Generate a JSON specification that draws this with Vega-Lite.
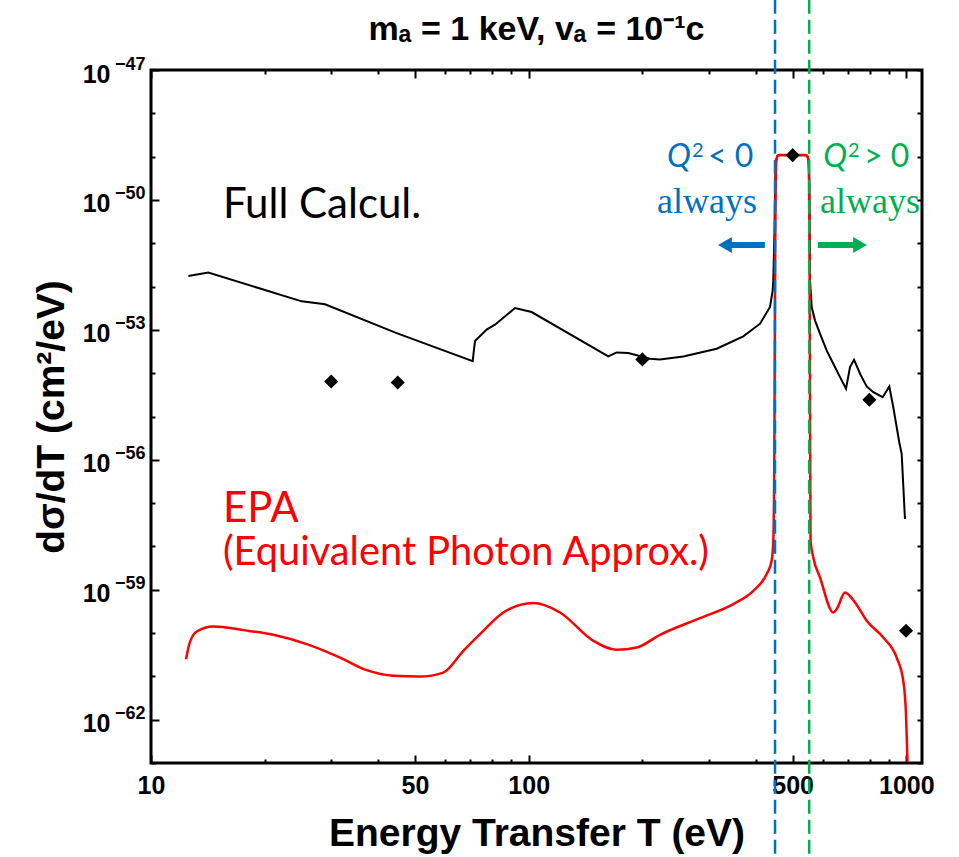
{
  "$schema": "https://vega.github.io/schema/vega-lite/v6.json",
  "width": 771,
  "height": 693,
  "autosize": "none",
  "padding": {"left": 151, "top": 70, "right": 37, "bottom": 94},
  "background": "white",
  "config": {
    "view": {"stroke": "black", "strokeWidth": 3},
    "axis": {"domain": false, "grid": false, "tickColor": "black", "tickWidth": 2, "labelColor": "black", "titleColor": "black"}
  },
  "title": {
    "text": "mₐ = 1 keV,  vₐ = 10⁻¹c",
    "frame": "group",
    "anchor": "middle",
    "offset": -75.5,
    "baseline": "alphabetic",
    "font": "Liberation Sans",
    "fontSize": 34,
    "fontWeight": "bold",
    "color": "black"
  },
  "datasets": {
    "black": [
      {"T": 12.56, "v": 1.754e-52}, {"T": 14.18, "v": 2.099e-52}, {"T": 25.06, "v": 4.56e-53}, {"T": 28.89, "v": 3.89e-53},
      {"T": 44.72, "v": 8.43e-54}, {"T": 71.07, "v": 1.897e-54}, {"T": 72.08, "v": 5.51e-54}, {"T": 77.4, "v": 1.012e-53},
      {"T": 81.4, "v": 1.318e-53}, {"T": 91.99, "v": 3.19e-53}, {"T": 101.8, "v": 2.58e-53}, {"T": 162.5, "v": 2.44e-54},
      {"T": 171.0, "v": 3.02e-54}, {"T": 183.5, "v": 2.91e-54}, {"T": 209.5, "v": 2.16e-54}, {"T": 222.7, "v": 2.08e-54},
      {"T": 256.7, "v": 2.44e-54}, {"T": 314.6, "v": 3.67e-54}, {"T": 370.0, "v": 7.08e-54}, {"T": 409.8, "v": 1.39e-53},
      {"T": 435.5, "v": 3.37e-53}, {"T": 442.6, "v": 8.18e-53}, {"T": 444.3, "v": 1.40e-52}, {"T": 447.5, "v": 2e-51},
      {"T": 449.5, "v": 3e-50}, {"T": 452, "v": 8.3e-50}, {"T": 456, "v": 1.05e-49}, {"T": 460, "v": 1.08e-49},
      {"T": 540, "v": 1.08e-49}, {"T": 546, "v": 1.05e-49}, {"T": 551, "v": 8.3e-50}, {"T": 553.5, "v": 3e-50},
      {"T": 555, "v": 1e-51}, {"T": 555.7, "v": 1.40e-52}, {"T": 561.5, "v": 3.37e-53}, {"T": 572.8, "v": 1.66e-53},
      {"T": 590.6, "v": 8.17e-54}, {"T": 615, "v": 3.36e-54}, {"T": 640.6, "v": 1.65e-54}, {"T": 667.4, "v": 8.11e-55},
      {"T": 692.1, "v": 4.37e-55}, {"T": 709.3, "v": 1.38e-54}, {"T": 726.8, "v": 2.05e-54}, {"T": 754.0, "v": 9.70e-55},
      {"T": 785, "v": 4.94e-55}, {"T": 817.6, "v": 3.65e-55}, {"T": 865.7, "v": 2.79e-55}, {"T": 901.2, "v": 4.94e-55},
      {"T": 923.4, "v": 1.64e-55}, {"T": 957.6, "v": 2.55e-56}, {"T": 971.8, "v": 1.37e-56}, {"T": 991.5, "v": 4.31e-58}
    ],
    "red": [
      {"T": 12.38, "v": 2.50e-61}, {"T": 12.63, "v": 5.55e-61}, {"T": 13.21, "v": 1.086e-60}, {"T": 14.62, "v": 1.416e-60},
      {"T": 17.55, "v": 1.169e-60}, {"T": 21.08, "v": 9.12e-61}, {"T": 25.84, "v": 5.55e-61}, {"T": 31.65, "v": 2.72e-61},
      {"T": 37.25, "v": 1.39e-61}, {"T": 43.81, "v": 1.03e-61}, {"T": 51.55, "v": 9.89e-62}, {"T": 59.42, "v": 1.22e-61},
      {"T": 67.13, "v": 3.89e-61}, {"T": 75.85, "v": 1.127e-60}, {"T": 85.67, "v": 2.99e-60}, {"T": 102.8, "v": 4.92e-60},
      {"T": 121.0, "v": 2.99e-60}, {"T": 148.3, "v": 6.62e-61}, {"T": 171.0, "v": 4.10e-61}, {"T": 193.2, "v": 4.63e-61},
      {"T": 222.7, "v": 9.12e-61}, {"T": 284.2, "v": 2.22e-60}, {"T": 348.1, "v": 4.67e-60}, {"T": 393.3, "v": 9.48e-60},
      {"T": 426.7, "v": 2.31e-59}, {"T": 439.9, "v": 4.69e-59}, {"T": 444.3, "v": 1.36e-58}, {"T": 447, "v": 1e-56},
      {"T": 448.5, "v": 1e-53}, {"T": 449.5, "v": 1e-51}, {"T": 451, "v": 3e-50}, {"T": 453, "v": 8.5e-50},
      {"T": 456, "v": 1.05e-49}, {"T": 460, "v": 1.09e-49}, {"T": 540, "v": 1.09e-49}, {"T": 546, "v": 1.05e-49},
      {"T": 550, "v": 8.5e-50}, {"T": 552.5, "v": 3e-50}, {"T": 554, "v": 1e-51}, {"T": 555.5, "v": 1e-54},
      {"T": 557.5, "v": 1.41e-58}, {"T": 567.0, "v": 5.58e-59}, {"T": 590.6, "v": 1.92e-59}, {"T": 640.6, "v": 2.99e-60},
      {"T": 654.0, "v": 3.58e-60}, {"T": 687.9, "v": 8.67e-60}, {"T": 731.2, "v": 5.08e-60}, {"T": 785.2, "v": 1.92e-60},
      {"T": 868.7, "v": 7.89e-61}, {"T": 942.6, "v": 2.72e-61}, {"T": 981.3, "v": 7.87e-62}, {"T": 997.7, "v": 1.34e-62},
      {"T": 1005.5, "v": 1.59e-63}, {"T": 1007, "v": 1.1e-63}
    ],
    "dashes": [
      {"T": 449, "y1": 4.2e-46, "y2": 6.3e-66, "c": "#0070C0"},
      {"T": 553, "y1": 4.2e-46, "y2": 6.3e-66, "c": "#00B050"}
    ],
    "dia": [
      {"T": 30, "v": 6.44e-55}, {"T": 45, "v": 6.11e-55}, {"T": 200, "v": 2.08e-54},
      {"T": 500, "v": 1.08e-49}, {"T": 798, "v": 2.43e-55}, {"T": 998, "v": 1.13e-60}
    ],
    "shafts": [
      {"a": 341, "b": 422, "v": 9.1e-52, "c": "#0070C0"},
      {"a": 583, "b": 731, "v": 9.1e-52, "c": "#00B050"}
    ],
    "heads": [
      {"T": 330.9, "v": 9.1e-52, "s": "triangle-left", "c": "#0070C0"},
      {"T": 754, "v": 9.1e-52, "s": "triangle-right", "c": "#00B050"}
    ],
    "labels": [
      {"T": 15.5, "v": 3.83e-51, "t": "Full Calcul.", "c": "black", "fs": 42},
      {"T": 15.5, "v": 3.66e-58, "t": "EPA", "c": "#FF0000", "fs": 42},
      {"T": 15.5, "v": 3.72e-59, "t": "(Equivalent Photon Approx.)", "c": "#FF0000", "fs": 39.8}
    ],
    "qs": [
      {"T": 268.9, "v": 5.75e-50, "t": "Q", "c": "#0070C0"},
      {"T": 696.5, "v": 5.75e-50, "t": "Q", "c": "#00B050"}
    ],
    "qsup": [
      {"T": 268.9, "v": 5.75e-50, "t": "2", "c": "#0070C0"},
      {"T": 696.5, "v": 5.75e-50, "t": "2", "c": "#00B050"}
    ],
    "qrest": [
      {"T": 268.9, "v": 5.75e-50, "t": "< 0", "c": "#0070C0"},
      {"T": 696.5, "v": 5.75e-50, "t": "> 0", "c": "#00B050"}
    ],
    "always": [
      {"T": 296.5, "v": 4.99e-51, "t": "always", "c": "#0070C0"},
      {"T": 801, "v": 4.99e-51, "t": "always", "c": "#00B050"}
    ]
  },
  "resolve": {"axis": {"x": "independent", "y": "independent"}},
  "layer": [
    {
      "data": {"name": "black"},
      "mark": {"type": "line", "color": "black", "strokeWidth": 2},
      "encoding": {
        "x": {"field": "T", "type": "quantitative", "scale": {"type": "log", "domain": [10, 1100], "nice": false},
          "axis": {"orient": "bottom", "values": [10, 50, 100, 500, 1000], "format": "d", "ticks": false,
            "labelFont": "Liberation Sans", "labelFontWeight": "bold", "labelFontSize": 25, "labelPadding": 10,
            "labelFlush": false, "labelOverlap": false, "labelBound": false,
            "title": "Energy Transfer T (eV)", "titleFont": "Liberation Sans", "titleFontWeight": "bold", "titleFontSize": 39,
            "titleBaseline": "alphabetic", "titleX": 385.5, "titleY": 82, "titleAlign": "center"}},
        "y": {"field": "v", "type": "quantitative", "scale": {"type": "log", "domain": [1e-63, 1e-47], "nice": false},
          "axis": {"orient": "left", "values": [1e-47, 1e-50, 1e-53, 1e-56, 1e-59, 1e-62], "ticks": false,
            "labelExpr": "'10'", "labelAlign": "right",
            "labelFont": "Liberation Sans", "labelFontWeight": "bold", "labelFontSize": 25, "labelPadding": 41, "labelOffset": 4,
            "labelFlush": false, "labelOverlap": false, "labelBound": false,
            "title": "dσ/dT (cm²/eV)", "titleFont": "Liberation Sans", "titleFontWeight": "bold", "titleFontSize": 39,
            "titleBaseline": "alphabetic", "titleX": -88, "titleY": 346.5, "titleAlign": "center", "titleAngle": -90}}
      }
    },
    {
      "data": {"name": "red"},
      "mark": {"type": "line", "color": "#FF0000", "strokeWidth": 2.5, "interpolate": "monotone"},
      "encoding": {
        "x": {"field": "T", "type": "quantitative", "scale": {"type": "log", "domain": [10, 1100], "nice": false},
          "axis": {"orient": "bottom", "values": [10, 20, 30, 40, 50, 60, 70, 80, 90, 100, 200, 300, 400, 500, 600, 700, 800, 900, 1000],
            "labels": false, "ticks": true, "title": null,
            "tickSize": {"condition": {"test": "datum.value == 10 || datum.value == 50 || datum.value == 100 || datum.value == 500 || datum.value == 1000", "value": -8}, "value": -4}}},
        "y": {"field": "v", "type": "quantitative", "scale": {"type": "log", "domain": [1e-63, 1e-47], "nice": false},
          "axis": {"orient": "left", "values": [1e-63, 1e-62, 1e-61, 1e-60, 1e-59, 1e-58, 1e-57, 1e-56, 1e-55, 1e-54, 1e-53, 1e-52, 1e-51, 1e-50, 1e-49, 1e-48, 1e-47],
            "labels": false, "ticks": true, "title": null,
            "tickSize": {"condition": {"test": "abs((round(log(datum.value)/LN10)+47)%3) == 0", "value": -8}, "value": -4}}}
      }
    },
    {
      "data": {"name": "dashes"},
      "mark": {"type": "rule", "strokeWidth": 2.5, "strokeDash": [14, 6]},
      "encoding": {
        "x": {"field": "T", "type": "quantitative", "scale": {"type": "log", "domain": [10, 1100], "nice": false},
          "axis": {"orient": "top", "values": [10, 20, 30, 40, 50, 60, 70, 80, 90, 100, 200, 300, 400, 500, 600, 700, 800, 900, 1000],
            "labels": false, "ticks": true, "title": null,
            "tickSize": {"condition": {"test": "datum.value == 10 || datum.value == 50 || datum.value == 100 || datum.value == 500 || datum.value == 1000", "value": -8}, "value": -4}}},
        "y": {"field": "y1", "type": "quantitative", "scale": {"type": "log", "domain": [1e-63, 1e-47], "nice": false},
          "axis": {"orient": "right", "values": [1e-63, 1e-62, 1e-61, 1e-60, 1e-59, 1e-58, 1e-57, 1e-56, 1e-55, 1e-54, 1e-53, 1e-52, 1e-51, 1e-50, 1e-49, 1e-48, 1e-47],
            "labels": false, "ticks": true, "title": null, "tickSize": -5}},
        "y2": {"field": "y2"},
        "color": {"field": "c", "type": "nominal", "scale": null}
      }
    },
    {
      "data": {"name": "dia"},
      "mark": {"type": "point", "shape": "diamond", "filled": true, "color": "black", "size": 200, "opacity": 1},
      "encoding": {
        "x": {"field": "T", "type": "quantitative", "axis": null},
        "y": {"field": "v", "type": "quantitative",
          "axis": {"orient": "left", "values": [1e-47, 1e-50, 1e-53, 1e-56, 1e-59, 1e-62], "ticks": false, "title": null,
            "labelExpr": "datum.value > 5e-48 ? '−47' : datum.value > 5e-51 ? '−50' : datum.value > 5e-54 ? '−53' : datum.value > 5e-57 ? '−56' : datum.value > 5e-60 ? '−59' : '−62'",
            "labelAlign": "right", "labelFont": "Liberation Sans", "labelFontWeight": "bold", "labelFontSize": 18,
            "labelPadding": 6, "labelOffset": -6, "labelFlush": false, "labelOverlap": false, "labelBound": false}}
      }
    },
    {
      "data": {"name": "shafts"},
      "mark": {"type": "rule", "strokeWidth": 6},
      "encoding": {
        "x": {"field": "a", "type": "quantitative", "axis": null},
        "x2": {"field": "b"},
        "y": {"field": "v", "type": "quantitative", "axis": null},
        "color": {"field": "c", "type": "nominal", "scale": null}
      }
    },
    {
      "data": {"name": "heads"},
      "mark": {"type": "point", "filled": true, "size": 256, "opacity": 1, "strokeWidth": 0},
      "encoding": {
        "x": {"field": "T", "type": "quantitative", "axis": null},
        "y": {"field": "v", "type": "quantitative", "axis": null},
        "shape": {"field": "s", "type": "nominal", "scale": null},
        "color": {"field": "c", "type": "nominal", "scale": null}
      }
    },
    {
      "data": {"name": "labels"},
      "mark": {"type": "text", "font": "Lato", "align": "left", "baseline": "alphabetic"},
      "encoding": {
        "x": {"field": "T", "type": "quantitative", "axis": null},
        "y": {"field": "v", "type": "quantitative", "axis": null},
        "text": {"field": "t"},
        "size": {"field": "fs", "type": "quantitative", "scale": null},
        "color": {"field": "c", "type": "nominal", "scale": null}
      }
    },
    {
      "data": {"name": "qs"},
      "mark": {"type": "text", "font": "Lato", "fontSize": 32, "fontStyle": "italic", "align": "right", "baseline": "alphabetic"},
      "encoding": {
        "x": {"field": "T", "type": "quantitative", "axis": null},
        "y": {"field": "v", "type": "quantitative", "axis": null},
        "text": {"field": "t"},
        "color": {"field": "c", "type": "nominal", "scale": null}
      }
    },
    {
      "data": {"name": "qsup"},
      "mark": {"type": "text", "font": "Lato", "fontSize": 20, "align": "left", "baseline": "alphabetic", "dx": 1, "dy": -10},
      "encoding": {
        "x": {"field": "T", "type": "quantitative", "axis": null},
        "y": {"field": "v", "type": "quantitative", "axis": null},
        "text": {"field": "t"},
        "color": {"field": "c", "type": "nominal", "scale": null}
      }
    },
    {
      "data": {"name": "qrest"},
      "mark": {"type": "text", "font": "Lato", "fontSize": 32, "align": "left", "baseline": "alphabetic", "dx": 17},
      "encoding": {
        "x": {"field": "T", "type": "quantitative", "axis": null},
        "y": {"field": "v", "type": "quantitative", "axis": null},
        "text": {"field": "t"},
        "color": {"field": "c", "type": "nominal", "scale": null}
      }
    },
    {
      "data": {"name": "always"},
      "mark": {"type": "text", "font": "Liberation Serif", "fontSize": 36, "align": "center", "baseline": "alphabetic"},
      "encoding": {
        "x": {"field": "T", "type": "quantitative", "axis": null},
        "y": {"field": "v", "type": "quantitative", "axis": null},
        "text": {"field": "t"},
        "color": {"field": "c", "type": "nominal", "scale": null}
      }
    }
  ]
}
